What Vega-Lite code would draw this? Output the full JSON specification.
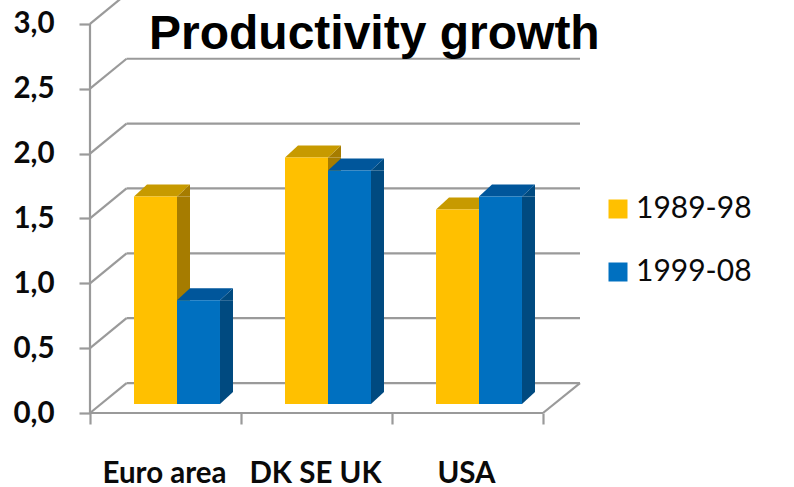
{
"$schema":"https://vega.github.io/schema/vega-lite/v6.json",
"width":453,"height":413,
"autosize":"none",
"padding":{"left":90,"top":0,"right":251,"bottom":74},
"background":"white",
"title":{"text":"Productivity growth","anchor":"start","frame":"group","font":"Liberation Sans","fontWeight":"bold","fontSize":48,"color":"#000000","baseline":"alphabetic","offset":0,"dx":59,"dy":104},
"datasets":{
"bars":[
{"category":"Euro area","series":"1989-98","value":1.6},
{"category":"Euro area","series":"1999-08","value":0.8},
{"category":"DK SE UK","series":"1989-98","value":1.9},
{"category":"DK SE UK","series":"1999-08","value":1.8},
{"category":"USA","series":"1989-98","value":1.5},
{"category":"USA","series":"1999-08","value":1.6}],
"frame":[
{"x":0,"x2":3,"y":0,"y2":0},
{"x":0,"x2":0,"y":0,"y2":3},
{"x":3,"x2":3.245,"y":0,"y2":0.231},
{"x":0,"x2":0.242,"y":0,"y2":0.231},
{"x":0,"x2":0.242,"y":0.5,"y2":0.731},
{"x":0,"x2":0.242,"y":1,"y2":1.231},
{"x":0,"x2":0.242,"y":1.5,"y2":1.731},
{"x":0,"x2":0.242,"y":2,"y2":2.231},
{"x":0,"x2":0.242,"y":2.5,"y2":2.731},
{"x":0,"x2":0.242,"y":3,"y2":3.231},
{"x":0.242,"x2":3.245,"y":0.231,"y2":0.231},
{"x":0.242,"x2":3.245,"y":0.731,"y2":0.731},
{"x":0.242,"x2":3.245,"y":1.231,"y2":1.231},
{"x":0.242,"x2":3.245,"y":1.731,"y2":1.731},
{"x":0.242,"x2":3.245,"y":2.231,"y2":2.231},
{"x":0.242,"x2":3.245,"y":2.731,"y2":2.731}]
},
"resolve":{"scale":{"x":"independent"},"axis":{"x":"independent"}},
"config":{"view":{"stroke":null},
"axis":{"grid":false,"title":null}},
"layer":[
{"data":{"name":"frame"},
 "mark":{"type":"rule","color":"#9a9a9a","strokeWidth":2.2},
 "encoding":{
  "x":{"field":"x","type":"quantitative","scale":{"domain":[0,3],"range":[0,453],"nice":false,"zero":false},
    "axis":{"orient":"bottom","values":[0,1,2,3],"labels":false,"domain":false,"ticks":true,"tickSize":11,"tickWidth":2.2,"tickColor":"#9a9a9a"}},
  "x2":{"field":"x2"},
  "y":{"field":"y","type":"quantitative","scale":{"domain":[0,3.184],"nice":false},
    "axis":{"orient":"left","values":[0,0.5,1,1.5,2,2.5,3],"labelExpr":"replace(format(datum.value,'.1f'),'.',',')","domain":false,"tickSize":11,"tickWidth":2.2,"tickColor":"#9a9a9a","labelFont":"Lato","labelFontWeight":"bold","labelFontSize":29.5,"labelColor":"#0a0a0a","labelPadding":25}},
  "y2":{"field":"y2"}
 }},
{"data":{"name":"bars"},
 "mark":{"type":"bar","width":13,"yOffset":-9,"y2Offset":-21},
 "encoding":{
  "x":{"field":"category","type":"nominal","sort":null,"scale":{"range":[39.5,492.5],"paddingInner":0,"paddingOuter":0},"axis":null},
  "xOffset":{"field":"series","type":"nominal","sort":null,"scale":{"paddingInner":0,"paddingOuter":0.756}},
  "y":{"field":"value","type":"quantitative","stack":null},
  "y2":{"datum":0},
  "color":{"condition":{"test":"datum.series=='1989-98'","value":"#A67C00"},"value":"#004A80"}
 }},
{"data":{"name":"bars"},
 "mark":{"type":"point","filled":true,"opacity":1,"strokeWidth":0,"size":10000,"shape":"M.43 0L.69 -.24L.69 0Z","yOffset":-9},
 "encoding":{
  "x":{"field":"category","type":"nominal","sort":null,"scale":{"range":[11.5,464.5],"paddingInner":0,"paddingOuter":0},"axis":null},
  "xOffset":{"field":"series","type":"nominal","sort":null,"scale":{"paddingInner":0,"paddingOuter":0.756}},
  "y":{"field":"value","type":"quantitative"},
  "color":{"condition":{"test":"datum.series=='1989-98'","value":"#A67C00"},"value":"#004A80"}
 }},
{"data":{"name":"bars"},
 "mark":{"type":"point","filled":true,"opacity":1,"strokeWidth":0,"size":10000,"shape":"M.43 0L.43 -.24L.69 -.24Z","yOffset":-9},
 "encoding":{
  "x":{"field":"category","type":"nominal","sort":null,"scale":{"range":[11.5,464.5],"paddingInner":0,"paddingOuter":0},"axis":null},
  "xOffset":{"field":"series","type":"nominal","sort":null,"scale":{"paddingInner":0,"paddingOuter":0.756}},
  "y":{"datum":0},
  "color":{"condition":{"test":"datum.series=='1989-98'","value":"#A67C00"},"value":"#004A80"}
 }},
{"data":{"name":"bars"},
 "mark":{"type":"point","filled":true,"opacity":1,"strokeWidth":0,"size":10000,"shape":"M-.43 0L.43 0L.69 -.24L-.17 -.24Z","yOffset":-9},
 "encoding":{
  "x":{"field":"category","type":"nominal","sort":null,"scale":{"range":[11.5,464.5],"paddingInner":0,"paddingOuter":0},"axis":null},
  "xOffset":{"field":"series","type":"nominal","sort":null,"scale":{"paddingInner":0,"paddingOuter":0.756}},
  "y":{"field":"value","type":"quantitative"},
  "color":{"condition":{"test":"datum.series=='1989-98'","value":"#C79A00"},"value":"#00569B"}
 }},
{"data":{"name":"bars"},
 "mark":{"type":"bar","yOffset":-9,"y2Offset":-9},
 "encoding":{
  "x":{"field":"category","type":"nominal","sort":null,"scale":{"range":[11.5,464.5],"paddingInner":0,"paddingOuter":0},
    "axis":{"orient":"bottom","labelAngle":0,"domain":false,"ticks":false,"labelFont":"Lato","labelFontWeight":"bold","labelFontSize":29.5,"labelColor":"#0a0a0a","labelPadding":60,"labelBaseline":"middle","labelOffset":-12.5}},
  "xOffset":{"field":"series","type":"nominal","sort":null,"scale":{"paddingInner":0,"paddingOuter":0.756}},
  "y":{"field":"value","type":"quantitative","stack":null},
  "y2":{"datum":0},
  "color":{"field":"series","type":"nominal","scale":{"domain":["1989-98","1999-08"],"range":["#FFC000","#0070C0"]},
    "legend":{"orient":"none","legendX":513,"legendY":194,"title":null,"symbolType":"square","symbolSize":361,"symbolStrokeWidth":0,"symbolOpacity":1,"labelFont":"Lato","labelFontWeight":"normal","labelFontSize":30,"labelColor":"#0a0a0a","labelOffset":3,"rowPadding":33,"labelLimit":200}}
 }}
]
}
